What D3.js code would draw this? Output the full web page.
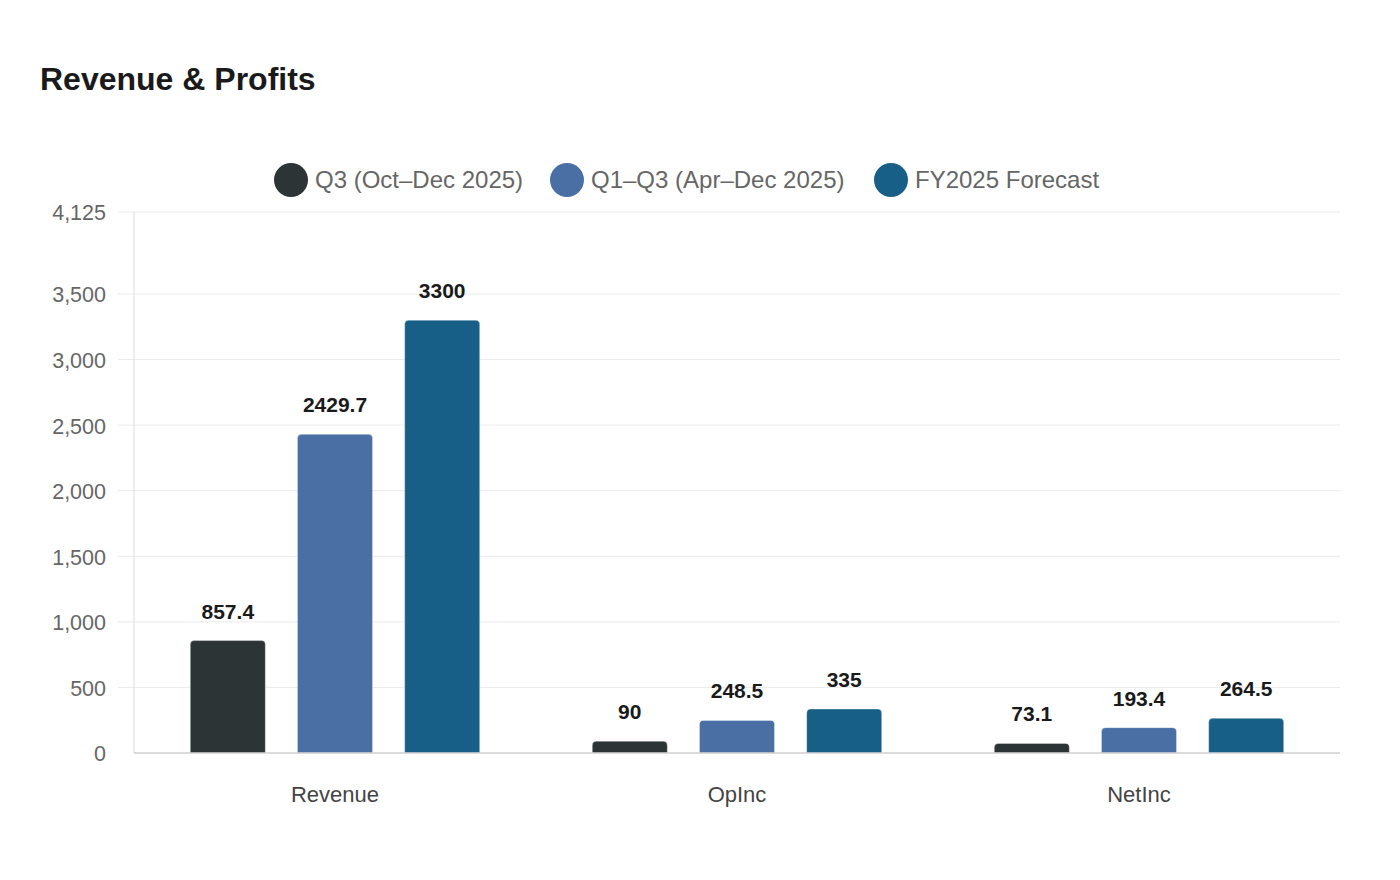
<!DOCTYPE html>
<html>
<head>
<meta charset="utf-8">
<script src="https://cdn.jsdelivr.net/npm/d3@7"></script>
<style>
  body { margin: 0; background: #fff; }
  svg text { font-family: "Liberation Sans", Arial, sans-serif; }
</style>
</head>
<body>
<div id="chart"></div>
<script>
// Chart data
const categories = ['Revenue', 'OpInc', 'NetInc'];
const seriesNames = ['Q3 (Oct\u2013Dec 2025)', 'Q1\u2013Q3 (Apr\u2013Dec 2025)', 'FY2025 Forecast'];
const seriesColors = ['#2d3436', '#4a6fa5', '#175f87'];
const q3Values = [857.4, 90, 73.1];
const q1q3Values = [2429.7, 248.5, 193.4];
const fyValues = [3300, 335, 264.5];
const yTicks = [0, 500, 1000, 1500, 2000, 2500, 3000, 3500, 4125];
const yMax = 4125;

const seriesValues = [q3Values, q1q3Values, fyValues];

const width = 1400;
const height = 880;
const margin = { top: 212, right: 60, bottom: 127, left: 134 };
const innerW = width - margin.left - margin.right;
const innerH = height - margin.top - margin.bottom;

const svg = d3.select('#chart')
  .append('svg')
  .attr('width', width)
  .attr('height', height);

// Title
svg.append('text')
  .attr('x', 40)
  .attr('y', 90)
  .attr('fill', '#1a1a1a')
  .style('font-size', '32px')
  .style('font-weight', 'bold')
  .text('Revenue & Profits');

// Legend
const legendX = [291, 567, 891];
const legend = svg.append('g').attr('class', 'legend');
seriesNames.forEach((name, i) => {
  const item = legend.append('g').attr('transform', `translate(${legendX[i]}, 180)`);
  item.append('circle')
    .attr('r', 17)
    .attr('fill', seriesColors[i]);
  item.append('text')
    .attr('x', 24)
    .attr('y', 8)
    .attr('fill', '#666')
    .style('font-size', '24px')
    .text(name);
});

const g = svg.append('g')
  .attr('transform', `translate(${margin.left}, ${margin.top})`);

const x0 = d3.scaleBand()
  .domain(categories)
  .range([0, innerW])
  .padding(0);

const x1 = d3.scaleBand()
  .domain(d3.range(seriesNames.length))
  .range([x0.bandwidth() * 0.14, x0.bandwidth() * 0.86])
  .paddingInner(0.3)
  .paddingOuter(0);

const y = d3.scaleLinear()
  .domain([0, yMax])
  .range([innerH, 0]);

// Grid lines
g.append('g')
  .selectAll('line')
  .data(yTicks.filter(t => t > 0))
  .enter()
  .append('line')
  .attr('x1', -16)
  .attr('x2', innerW)
  .attr('y1', d => y(d))
  .attr('y2', d => y(d))
  .attr('stroke', '#ebebeb')
  .attr('stroke-width', 1);

// Y axis line
g.append('line')
  .attr('x1', 0).attr('x2', 0)
  .attr('y1', 0).attr('y2', innerH)
  .attr('stroke', '#dcdcdc')
  .attr('stroke-width', 1);

// Y axis labels
const yAxis = d3.axisLeft(y)
  .tickValues(yTicks)
  .tickFormat(d3.format(','))
  .tickSize(0)
  .tickPadding(28);

g.append('g')
  .call(yAxis)
  .call(sel => sel.select('.domain').remove())
  .call(sel => sel.selectAll('text')
    .attr('fill', '#666')
    .attr('dy', '0.37em')
    .style('font-size', '21.5px')
    .style('font-family', '"Liberation Sans", Arial, sans-serif'));

// Bars
const groups = g.append('g')
  .selectAll('g')
  .data(categories)
  .enter()
  .append('g')
  .attr('transform', d => `translate(${x0(d)}, 0)`);

const r = 4;
function barPath(x, yTop, w, h) {
  const rr = Math.min(r, h);
  return `M${x},${yTop + h}V${yTop + rr}Q${x},${yTop} ${x + rr},${yTop}` +
    `H${x + w - rr}Q${x + w},${yTop} ${x + w},${yTop + rr}V${yTop + h}Z`;
}

groups.each(function(cat, ci) {
  const grp = d3.select(this);
  seriesValues.forEach((vals, si) => {
    const v = vals[ci];
    const bx = x1(si);
    const bw = x1.bandwidth();
    grp.append('path')
      .attr('d', barPath(bx, y(v), bw, innerH - y(v)))
      .attr('fill', seriesColors[si])
      .attr('stroke', 'rgba(255,255,255,0.35)')
      .attr('stroke-width', 1);
    grp.append('text')
      .attr('x', bx + bw / 2)
      .attr('y', y(v) - 22)
      .attr('text-anchor', 'middle')
      .attr('fill', '#1a1a1a')
      .style('font-size', '21px')
      .style('font-weight', 'bold')
      .text(v);
  });
});

// X axis line
g.append('line')
  .attr('x1', 0).attr('x2', innerW)
  .attr('y1', innerH).attr('y2', innerH)
  .attr('stroke', '#cfcfcf')
  .attr('stroke-width', 1.5);

// Category labels
g.append('g')
  .selectAll('text')
  .data(categories)
  .enter()
  .append('text')
  .attr('x', d => x0(d) + x0.bandwidth() / 2)
  .attr('y', innerH + 49)
  .attr('text-anchor', 'middle')
  .attr('fill', '#444')
  .style('font-size', '22px')
  .text(d => d);
</script>
</body>
</html>
